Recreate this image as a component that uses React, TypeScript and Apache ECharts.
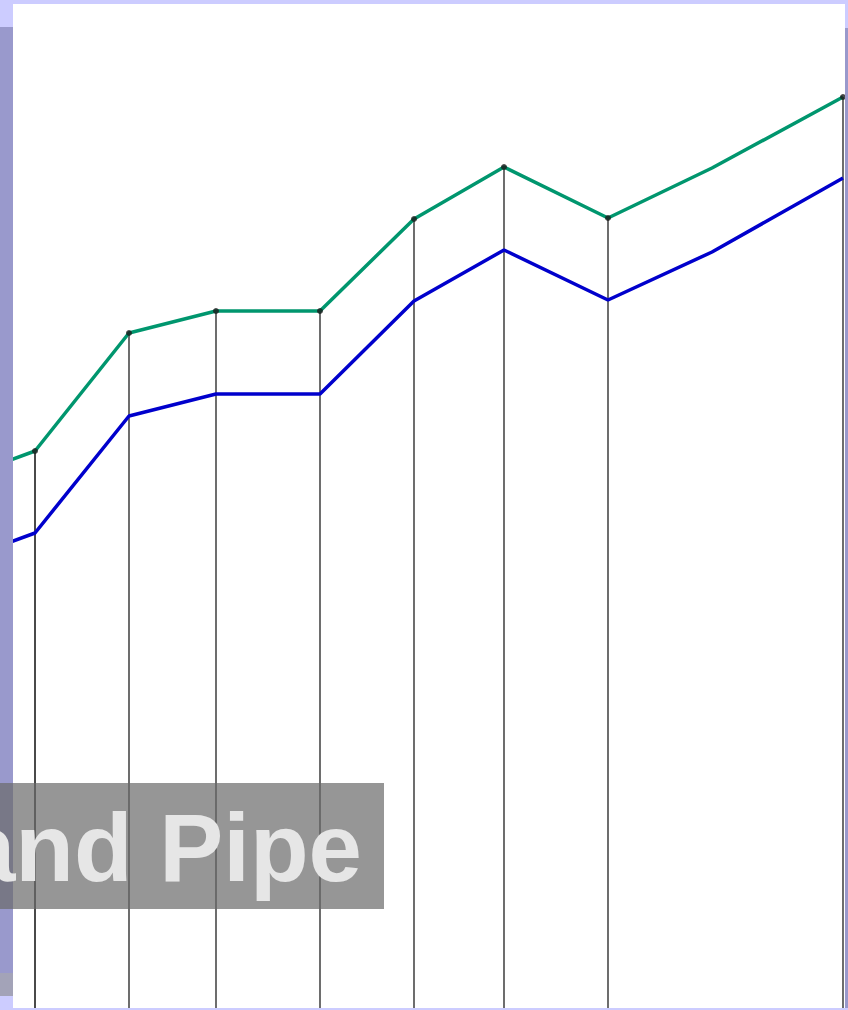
import React, { useEffect, useRef } from "react";
import * as echarts from "echarts";

// x positions of the samples (arbitrary units along the horizontal axis)
const xValues = [-60, 35, 129, 216, 320, 414, 504, 608, 712, 843];
// upper (green) series
const greenValues = [522, 557, 675, 697, 697, 789, 841, 790, 840, 911];
// lower (blue) series
const blueValues = [440, 475, 592, 614, 614, 707, 758, 708, 756, 830];
// samples that carry a marker and a drop line
const markedIdx = [1, 2, 3, 4, 5, 6, 7, 9];
const labelText = "and Pipe";

export default function App() {
  const ref = useRef<HTMLDivElement>(null);
  useEffect(() => {
    document.body.style.margin = "0";
    const chart = echarts.init(ref.current!, null, { renderer: "svg" });
    const green = xValues.map((x, i) => [x, greenValues[i]]);
    const blue = xValues.map((x, i) => [x, blueValues[i]]);
    const marked = markedIdx.map((i) => [xValues[i], greenValues[i]]);
    chart.setOption({
      animation: false,
      backgroundColor: "#ffffff",
      grid: { left: 0, right: 0, top: 8, bottom: 2, containLabel: false },
      xAxis: { type: "value", min: 0, max: 848, show: false },
      yAxis: { type: "value", min: 0, max: 1000, show: false },
      series: [
        {
          type: "custom",
          data: marked,
          clip: true,
          z: 1,
          renderItem: (params: any, api: any) => {
            const top = api.coord([api.value(0), api.value(1)]);
            const bot = api.coord([api.value(0), 0]);
            return {
              type: "line",
              shape: { x1: top[0], y1: top[1], x2: bot[0], y2: bot[1] },
              style: { stroke: params.dataIndex === 0 ? "#4a4a4a" : "#1f1f1f", lineWidth: params.dataIndex === 0 ? 2 : 1.3 },
            };
          },
        },
        {
          type: "line",
          data: blue,
          showSymbol: false,
          clip: true,
          z: 2,
          lineStyle: { color: "#0000cc", width: 3.5 },
        },
        {
          type: "line",
          data: green,
          showSymbol: false,
          clip: true,
          z: 3,
          lineStyle: { color: "#00966e", width: 3.5 },
        },
        {
          type: "scatter",
          data: marked,
          symbol: "circle",
          symbolSize: 6,
          z: 4,
          itemStyle: { color: "#1a1a1a" },
        },
      ],
      graphic: [
        { type: "rect", z: 50, shape: { x: 0, y: 0, width: 848, height: 4 }, style: { fill: "#ccccff" } },
        { type: "rect", z: 50, shape: { x: 0, y: 1008, width: 848, height: 2 }, style: { fill: "#ccccff" } },
        { type: "rect", z: 50, shape: { x: 0, y: 0, width: 13, height: 27 }, style: { fill: "#ccccff" } },
        { type: "rect", z: 50, shape: { x: 0, y: 27, width: 13, height: 946 }, style: { fill: "#9999cc" } },
        { type: "rect", z: 50, shape: { x: 0, y: 973, width: 13, height: 23 }, style: { fill: "#a3a3b8" } },
        { type: "rect", z: 50, shape: { x: 0, y: 996, width: 13, height: 14 }, style: { fill: "#ccccff" } },
        { type: "rect", z: 50, shape: { x: 845, y: 0, width: 3, height: 28 }, style: { fill: "#ccccff" } },
        { type: "rect", z: 50, shape: { x: 845, y: 28, width: 3, height: 980 }, style: { fill: "#9999cc" } },
        { type: "rect", z: 60, shape: { x: 0, y: 783, width: 384, height: 126 }, style: { fill: "rgba(105,105,105,0.7)" } },
        {
          type: "text",
          z: 61,
          x: 362,
          y: 847,
          style: {
            text: labelText,
            fill: "#e6e6e6",
            font: "bold 96px 'Liberation Sans', Arial, sans-serif",
            align: "right",
            verticalAlign: "middle",
          },
        },
      ],
    });
    return () => chart.dispose();
  }, []);
  return <div ref={ref} style={{ position: "absolute", left: 0, top: 0, width: 848, height: 1010 }} />;
}
